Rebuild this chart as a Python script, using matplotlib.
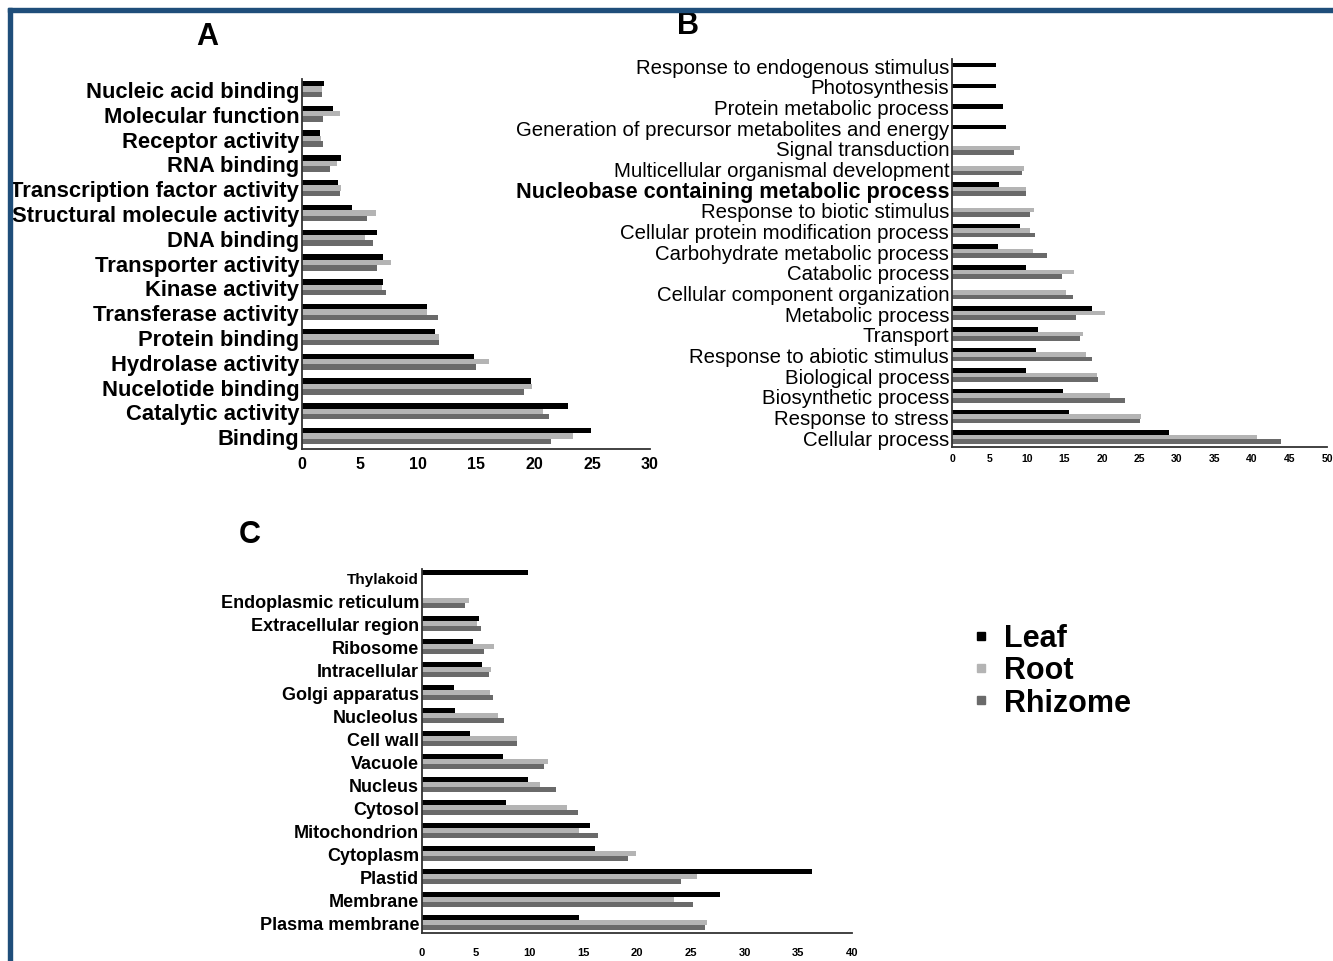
import matplotlib
matplotlib.use("Agg")
import matplotlib.pyplot as plt
from matplotlib.lines import Line2D
from matplotlib.patches import Rectangle
import numpy as np

plt.rcParams['font.family'] = ['Liberation Sans', 'DejaVu Sans']

series = ["Leaf", "Root", "Rhizome"]
colors = ["#000000", "#b4b4b4", "#6a6a6a"]

# Panel A (top to bottom)
a_cats = ["Nucleic acid binding", "Molecular function", "Receptor activity", "RNA binding",
          "Transcription factor activity", "Structural molecule activity", "DNA binding",
          "Transporter activity", "Kinase activity", "Transferase activity", "Protein binding",
          "Hydrolase activity", "Nucelotide binding", "Catalytic activity", "Binding"]
a_leaf = [1.9, 2.65, 1.55, 3.35, 3.1, 4.3, 6.45, 7.0, 6.95, 10.8, 11.5, 14.85, 19.75, 22.95, 24.9]
a_root = [1.75, 3.3, 1.6, 3.0, 3.35, 6.4, 5.4, 7.7, 6.9, 10.75, 11.8, 16.15, 19.8, 20.8, 23.35]
a_rhiz = [1.75, 1.8, 1.8, 2.4, 3.3, 5.6, 6.15, 6.5, 7.2, 11.7, 11.85, 15.0, 19.1, 21.3, 21.5]
a_ticks = [0, 5, 10, 15, 20, 25, 30]

# Panel B (top to bottom)
b_cats = ["Response to endogenous stimulus", "Photosynthesis", "Protein metabolic process",
          "Generation of precursor metabolites and energy", "Signal transduction",
          "Multicellular organismal development", "Nucleobase containing metabolic process",
          "Response to biotic stimulus", "Cellular protein modification process",
          "Carbohydrate metabolic process", "Catabolic process", "Cellular component organization",
          "Metabolic process", "Transport", "Response to abiotic stimulus", "Biological process",
          "Biosynthetic process", "Response to stress", "Cellular process"]
b_leaf = [5.8, 5.9, 6.75, 7.15, 0, 0, 6.2, 0, 9.0, 6.1, 9.9, 0, 18.6, 11.4, 11.2, 9.9, 14.8, 15.6, 28.9]
b_root = [0, 0, 0, 0, 9.1, 9.55, 9.9, 10.9, 10.45, 10.8, 16.3, 15.25, 20.4, 17.5, 17.8, 19.3, 21.1, 25.2, 40.7]
b_rhiz = [0, 0, 0, 0, 8.2, 9.3, 9.85, 10.35, 11.0, 12.6, 14.6, 16.1, 16.5, 17.1, 18.7, 19.5, 23.0, 25.0, 43.9]
b_ticks = [0, 5, 10, 15, 20, 25, 30, 35, 40, 45, 50]

# Panel C (top to bottom)
c_cats = ["Thylakoid", "Endoplasmic reticulum", "Extracellular region", "Ribosome", "Intracellular",
          "Golgi apparatus", "Nucleolus", "Cell wall", "Vacuole", "Nucleus", "Cytosol",
          "Mitochondrion", "Cytoplasm", "Plastid", "Membrane", "Plasma membrane"]
c_leaf = [9.9, 0, 5.3, 4.7, 5.55, 3.0, 3.05, 4.45, 7.55, 9.9, 7.8, 15.65, 16.05, 36.25, 27.7, 14.6]
c_root = [0, 4.35, 5.1, 6.7, 6.4, 6.35, 7.1, 8.85, 11.7, 11.0, 13.5, 14.6, 19.9, 25.6, 23.4, 26.5]
c_rhiz = [0, 4.0, 5.5, 5.8, 6.2, 6.65, 7.6, 8.8, 11.35, 12.45, 14.5, 16.35, 19.15, 24.1, 25.2, 26.35]
c_ticks = [0, 5, 10, 15, 20, 25, 30, 35, 40]

W, H = 1333, 962
fig = plt.figure(figsize=(W / 100, H / 100), dpi=100)
narrow = ['Liberation Sans Narrow', 'Liberation Sans']


def fr(x0, y_top, x1, y_bot):
    return [x0 / W, 1 - y_bot / H, (x1 - x0) / W, (y_bot - y_top) / H]


def panel(rect, cats, leaf, root, rhiz, ticks, ylim, label_size, label_weight,
          tick_size, tick_family, tick_pad, center_single=False):
    ax = fig.add_axes(rect)
    n = len(cats)
    pos = np.arange(n)[::-1].astype(float)
    h = 0.22
    leaf_off = []
    for l, r, z in zip(leaf, root, rhiz):
        if center_single and r == 0 and z == 0:
            leaf_off.append(0.0)
        else:
            leaf_off.append(h)
    ax.barh(pos + np.array(leaf_off), leaf, height=h, color=colors[0], label=series[0])
    ax.barh(pos, root, height=h, color=colors[1], label=series[1])
    ax.barh(pos - h, rhiz, height=h, color=colors[2], label=series[2])
    ax.set_yticks(pos)
    ax.set_yticklabels(cats, fontsize=label_size, fontweight=label_weight)
    ax.set_xticks(ticks)
    ax.set_xticklabels([str(t) for t in ticks], fontsize=tick_size, fontweight='bold',
                       family=tick_family)
    ax.set_xlim(ticks[0], ticks[-1])
    ax.set_ylim(*ylim)
    for s in ['top', 'right']:
        ax.spines[s].set_visible(False)
    for s in ['left', 'bottom']:
        ax.spines[s].set_linewidth(1.3)
        ax.spines[s].set_color('#333333')
    ax.tick_params(axis='y', length=0, pad=2)
    ax.tick_params(axis='x', length=0, pad=tick_pad)
    return ax


axA = panel(fr(302, 80, 650, 450), a_cats, a_leaf, a_root, a_rhiz, a_ticks,
            (-0.52, 14.4), 15.8, 'bold', 11.5, ['Liberation Sans', 'DejaVu Sans'], 5)
axB = panel(fr(952, 60, 1327, 448), b_cats, b_leaf, b_root, b_rhiz, b_ticks,
            (-0.48, 18.3), 14.7, 'normal', 7.5, narrow, 4, center_single=True)
for t in axB.get_yticklabels():
    if t.get_text().startswith("Nucleobase"):
        t.set_fontweight('bold')
        t.set_fontsize(15.6)
axC = panel(fr(422, 570, 852, 934), c_cats, c_leaf, c_root, c_rhiz, c_ticks,
            (-0.47, 15.36), 13, 'bold', 8, narrow, 10)
for t in axC.get_yticklabels():
    if t.get_text() == "Thylakoid":
        t.set_fontsize(11)

fig.text(207 / W, 1 - 45 / H, "A", fontsize=22, fontweight='bold', ha='center', va='baseline',
         family=narrow)
fig.text(688 / W, 1 - 34 / H, "B", fontsize=22, fontweight='bold', ha='center', va='baseline',
         family=narrow)
fig.text(250 / W, 1 - 543 / H, "C", fontsize=22, fontweight='bold', ha='center', va='baseline',
         family=narrow)

handles = [Line2D([], [], marker='s', linestyle='none', markersize=6,
                  markerfacecolor=c, markeredgecolor=c) for c in colors]
fig.legend(handles, series, loc='upper left', bbox_to_anchor=(960 / W, 1 - 612 / H),
           frameon=False, prop={'size': 22, 'weight': 'bold'}, handlelength=0.6,
           handletextpad=0.45, labelspacing=0.07, borderaxespad=0)

blue = "#1f4e7a"
fig.patches.append(Rectangle((8 / W, 1 - 12.5 / H), 1, 3.5 / H, transform=fig.transFigure,
                             color=blue, zorder=10))
fig.patches.append(Rectangle((8 / W, 0), 4 / W, 1 - 9 / H, transform=fig.transFigure,
                             color=blue, zorder=10))

fig.savefig("out.png", dpi=100)
